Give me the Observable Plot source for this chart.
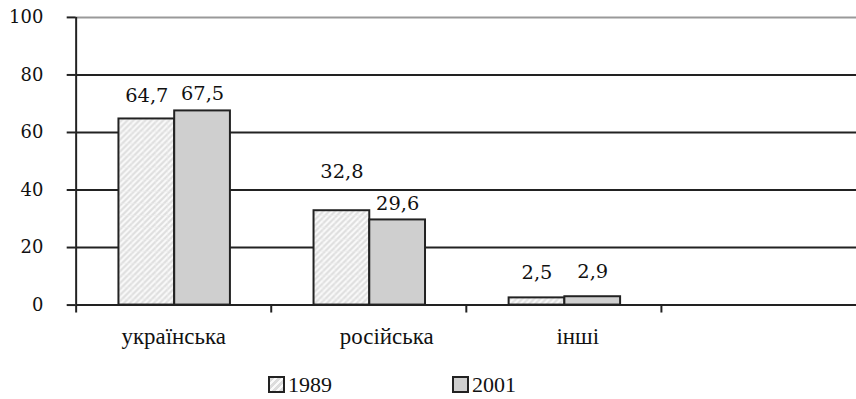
<!DOCTYPE html>
<html>
<head>
<meta charset="utf-8">
<script src="https://cdn.jsdelivr.net/npm/d3@7"></script>
<script src="https://cdn.jsdelivr.net/npm/@observablehq/plot@0.6"></script>
<style>
  html, body { margin: 0; padding: 0; background: #fff; overflow: hidden; }
  #chart { width: 856px; overflow: hidden; }
  .legend { position: relative; height: 34px; font-family: "Liberation Serif", serif; font-size: 22px; color: #111; }
  .legend .item { position: absolute; top: 13px; display: flex; align-items: center; line-height: 16px; }
  .legend .swatch { width: 13px; height: 13px; border: 2px solid #222; margin-right: 3px; }
  .legend .hatch { background: repeating-linear-gradient(135deg, #dcdcdc 0 3px, #fafafa 3px 5px); }
  .legend .solid { background: #cfcfcf; }
</style>
</head>
<body>
<div id="chart"></div>
<script>
// Мовний склад: частка населення, %
const categories = ["українська", "російська", "інші"];
const share1989 = [64.7, 32.8, 2.5];
const share2001 = [67.5, 29.6, 2.9];
const years = ["1989", "2001"];
const yTicks = [0, 20, 40, 60, 80, 100];

const rows = categories.map((c, i) => ({c, v1989: share1989[i], v2001: share2001[i]}));
// an empty fourth slot keeps the plot area wider than the three groups
const xDomain = [...categories, "·"];

const ink = "#222";
const numFont = "DejaVu Serif";
const textFont = "Liberation Serif";
const fmt = v => String(v).replace(".", ",");

// value labels sit a little above each bar (pixels)
const lift1989 = [17, 33, 19];
const lift2001 = [11, 10, 19];
// horizontal nudge of the category names (pixels)
const catShift = [0, 18, 14];
const pxPerUnit = 289.5 / 100;

const W = 860, H = 365, mL = 76, mT = 17, mB = H - 306;
const band = (W - mL) / xDomain.length;

const chart = Plot.plot({
  width: W,
  height: H,
  marginLeft: mL,
  marginRight: 0,
  marginTop: mT,
  marginBottom: mB,
  style: {background: "#fff", color: "#111"},
  x: {domain: xDomain, padding: 0, axis: null, label: null},
  y: {domain: [0, 100], axis: null, label: null},
  marks: [
    Plot.ruleY([20, 40, 60, 80], {stroke: ink, strokeWidth: 2}),
    Plot.ruleY([100], {stroke: "#999", strokeWidth: 2}),
    Plot.barY(rows, {x: "c", y: "v1989", fill: "url(#hatch1989)", stroke: ink, strokeWidth: 2, insetLeft: 43, insetRight: band - 99}),
    Plot.barY(rows, {x: "c", y: "v2001", fill: "#cfcfcf", stroke: ink, strokeWidth: 2, insetLeft: 99, insetRight: band - 155}),
    Plot.ruleY([0], {stroke: ink, strokeWidth: 2}),
    // y axis line and the x tick marks at group boundaries
    Plot.ruleX([xDomain[0]], {x: d => d, y1: 0, y2: 100, dx: -band / 2, stroke: ink, strokeWidth: 2}),
    Plot.ruleX(xDomain, {x: d => d, y1: 0, y2: -8 / pxPerUnit, dx: -band / 2, stroke: ink, strokeWidth: 2}),
    Plot.axisY({ticks: yTicks, label: null, tickSize: 9, tickPadding: 24, strokeWidth: 2, stroke: ink, fontSize: 18, fontFamily: numFont, tickFormat: d => d}),
    ...categories.map((c, i) =>
      Plot.axisX({ticks: [c], label: null, tickSize: 0, tickPadding: 23, dx: catShift[i], fontSize: 23, fontFamily: textFont, tickFormat: d => d})
    ),
    Plot.text(rows, {x: "c", y: (d, i) => d.v1989 + lift1989[i] / pxPerUnit, text: d => fmt(d.v1989), dx: -27, lineAnchor: "bottom", fontSize: 19.5, fontFamily: numFont, fill: "#111"}),
    Plot.text(rows, {x: "c", y: (d, i) => d.v2001 + lift2001[i] / pxPerUnit, text: d => fmt(d.v2001), dx: 29, lineAnchor: "bottom", fontSize: 19.5, fontFamily: numFont, fill: "#111"})
  ]
});

// diagonal hatch used for the 1989 bars
chart.insertAdjacentHTML("afterbegin", `
  <defs>
    <pattern id="hatch1989" patternUnits="userSpaceOnUse" width="12" height="12">
      <rect width="12" height="12" fill="#dedede"/>
      <path d="M-3,3 L3,-3 M-3,9 L9,-3 M-3,15 L15,-3 M3,15 L15,3 M9,15 L15,9" stroke="#fbfbfb" stroke-width="2"/>
      <path d="M0,0 H12 M0,0 V12" stroke="#ececec" stroke-width="1"/>
    </pattern>
  </defs>`);

const root = document.getElementById("chart");
root.appendChild(chart);

const legend = document.createElement("div");
legend.className = "legend";
const legendLeft = [268, 452];
years.forEach((y, i) => {
  const item = document.createElement("div");
  item.className = "item";
  item.style.left = legendLeft[i] + "px";
  const sw = document.createElement("span");
  sw.className = "swatch " + (i === 0 ? "hatch" : "solid");
  const label = document.createElement("span");
  label.textContent = y;
  item.append(sw, label);
  legend.appendChild(item);
});
root.appendChild(legend);
</script>
</body>
</html>
